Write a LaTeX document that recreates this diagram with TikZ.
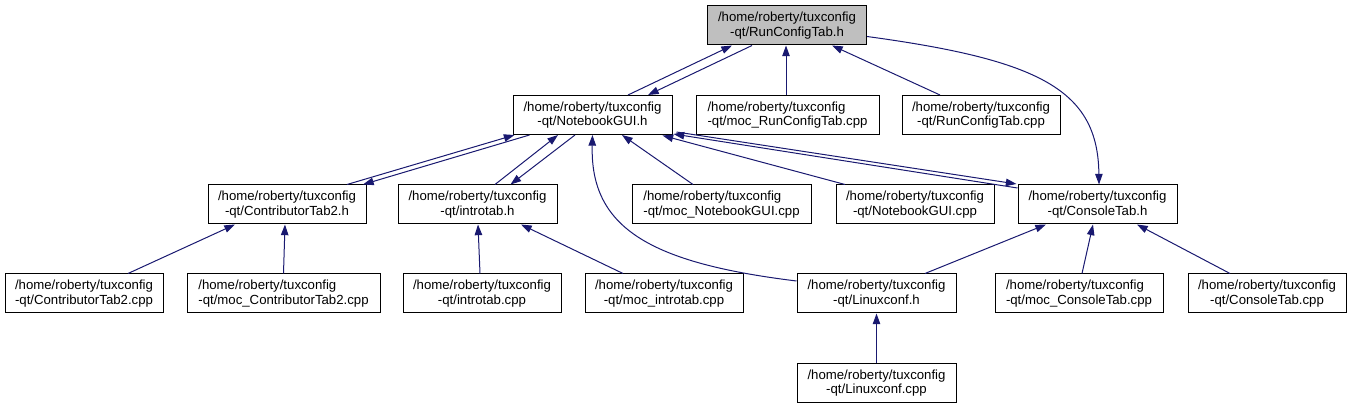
\documentclass[tikz,border=0pt]{standalone}
\usepackage{fontspec}
\setmainfont{Liberation Sans}
\usetikzlibrary{arrows.meta,calc}
\definecolor{edgec}{HTML}{191970}
\definecolor{topfill}{HTML}{BFBFBF}
\tikzset{
  fbox/.style={draw=black, line width=0.75pt, inner sep=0pt, minimum height=29.25pt,
    font=\fontsize{9.9pt}{10.8pt}\selectfont, align=center, fill=white},
  lft/.style={align=left},
  dep/.style={draw=edgec, line width=0.75pt, -{Triangle[length=8pt,width=5.6pt]}},
}
\begin{document}
\begin{tikzpicture}[x=0.75pt,y=-0.75pt]
\useasboundingbox (0,0) rectangle (1352,409);
% row 1
\node[fbox, fill=topfill, minimum width=119.25pt] (rcth) at (787,25.5) {/home/roberty/tuxconfig\\-qt/RunConfigTab.h};
% row 2
\node[fbox, minimum width=119.25pt] (nbh) at (592.5,115) {/home/roberty/tuxconfig\\-qt/NotebookGUI.h};
\node[fbox, lft, minimum width=137.25pt] (mrcc) at (787.5,115) {/home/roberty/tuxconfig\\-qt/moc\_RunConfigTab.cpp};
\node[fbox, minimum width=118.5pt] (rccpp) at (981,115) {/home/roberty/tuxconfig\\-qt/RunConfigTab.cpp};
% row 3
\node[fbox, minimum width=118.5pt] (ct2h) at (287,204.5) {/home/roberty/tuxconfig\\-qt/ContributorTab2.h};
\node[fbox, minimum width=119.25pt] (ith) at (477.5,204.5) {/home/roberty/tuxconfig\\-qt/introtab.h};
\node[fbox, lft, minimum width=134.25pt] (mnbc) at (721.5,204.5) {/home/roberty/tuxconfig\\-qt/moc\_NotebookGUI.cpp};
\node[fbox, minimum width=118.5pt] (nbcpp) at (915,204.5) {/home/roberty/tuxconfig\\-qt/NotebookGUI.cpp};
\node[fbox, minimum width=119.25pt] (cth) at (1097.5,204.5) {/home/roberty/tuxconfig\\-qt/ConsoleTab.h};
% row 4
\node[fbox, lft, minimum width=118.5pt] (ct2c) at (84,293.5) {/home/roberty/tuxconfig\\-qt/ContributorTab2.cpp};
\node[fbox, lft, minimum width=144.75pt] (mct2c) at (283.5,293.5) {/home/roberty/tuxconfig\\-qt/moc\_ContributorTab2.cpp};
\node[fbox, minimum width=118.5pt] (itc) at (482,293.5) {/home/roberty/tuxconfig\\-qt/introtab.cpp};
\node[fbox, minimum width=118.5pt] (mitc) at (664,293.5) {/home/roberty/tuxconfig\\-qt/moc\_introtab.cpp};
\node[fbox, minimum width=119.25pt] (lch) at (876.5,293.5) {/home/roberty/tuxconfig\\-qt/Linuxconf.h};
\node[fbox, lft, minimum width=126pt] (mctc) at (1079,293.5) {/home/roberty/tuxconfig\\-qt/moc\_ConsoleTab.cpp};
\node[fbox, minimum width=118.5pt] (ctc) at (1267,293.5) {/home/roberty/tuxconfig\\-qt/ConsoleTab.cpp};
% row 5
\node[fbox, minimum width=119.25pt] (lcc) at (876.5,383) {/home/roberty/tuxconfig\\-qt/Linuxconf.cpp};
% edges
\draw[dep] ($(nbh.north)+(35.5,0)$) -- ($(rcth.south)+(-55,0)$);
\draw[dep] ($(rcth.south)+(-35,0)$) -- ($(nbh.north)+(55.5,0)$);
\draw[dep] ($(mrcc.north)+(-1.5,0)$) -- ($(rcth.south)+(-1,0)$);
\draw[dep] ($(rccpp.north)+(-41,0)$) -- ($(rcth.south)+(45,0)$);
\draw[dep] ($(rcth.east)+(0,11)$) .. controls (1040,60) and (1098,90) .. ($(cth.north)+(1.5,0)$);
\draw[dep] ($(ct2h.north)+(60,0)$) -- ($(nbh.south west)+(2,0)$);
\draw[dep] ($(nbh.south west)+(17,0)$) -- ($(ct2h.north)+(76,0)$);
\draw[dep] ($(ith.north)+(17.5,0)$) -- ($(nbh.south)+(-34.5,0)$);
\draw[dep] ($(nbh.south)+(-17.5,0)$) -- ($(ith.north)+(33,0)$);
\draw[dep] ($(lch.west)+(0,-12.5)$) .. controls (650,263) and (590,228) .. (nbh.south);
\draw[dep] ($(mnbc.north)+(-28.5,0)$) -- ($(nbh.south)+(29.5,0)$);
\draw[dep] ($(nbcpp.north)+(-70,0)$) -- ($(nbh.south east)+(-10,0.5)$);
\draw[dep] ($(cth.north west)+(0,3.5)$) -- ($(nbh.south east)+(1,-1)$);
\draw[dep] ($(nbh.south east)+(4,-3)$) -- ($(cth.north west)+(-1,-0.5)$);
\draw[dep] ($(ct2c.north)+(44,0)$) -- ($(ct2h.south)+(-52,0)$);
\draw[dep] (mct2c.north) -- ($(ct2h.south)+(-2,0)$);
\draw[dep] ($(itc.north)+(-2,0)$) -- ($(ith.south)+(0.5,0)$);
\draw[dep] ($(mitc.north)+(-41,0)$) -- ($(ith.south)+(43.5,0)$);
\draw[dep] ($(lch.north)+(48.5,0)$) -- ($(cth.south)+(-51.5,0)$);
\draw[dep] ($(mctc.north)+(3,0)$) -- ($(cth.south)+(-4.5,0)$);
\draw[dep] ($(ctc.north)+(-37,0)$) -- ($(cth.south)+(39.5,0)$);
\draw[dep] (lcc.north) -- (lch.south);
\end{tikzpicture}
\end{document}
